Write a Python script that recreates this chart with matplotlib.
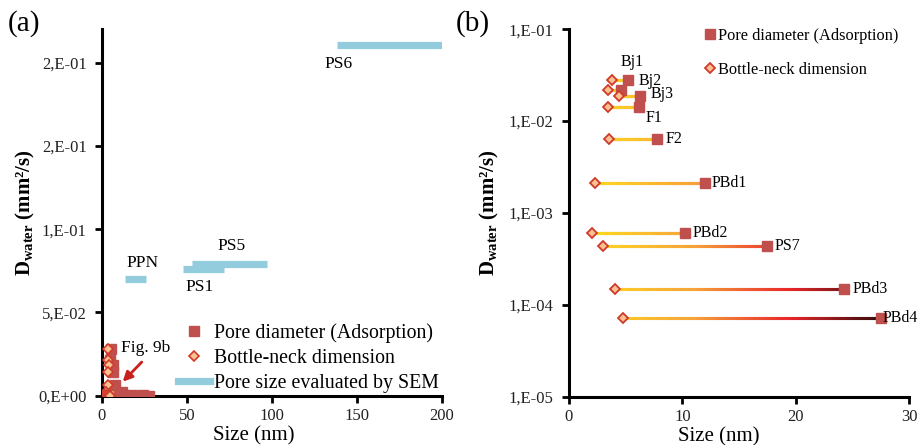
import numpy as np
import matplotlib
matplotlib.use('Agg')
import matplotlib.pyplot as plt
from matplotlib.collections import LineCollection
from matplotlib.colors import LinearSegmentedColormap, Normalize
from matplotlib.ticker import FuncFormatter

plt.rcParams['font.family'] = ['Liberation Serif', 'DejaVu Serif']
plt.rcParams['mathtext.fontset'] = 'custom'
plt.rcParams['mathtext.rm'] = 'Liberation Serif'
plt.rcParams['mathtext.bf'] = 'Liberation Serif:bold'
plt.rcParams['mathtext.it'] = 'Liberation Serif:italic'

# samples: pore diameter (adsorption), bottle-neck size, water diffusivity
samples = ['Bj1', 'Bj2', 'Bj3', 'F1', 'F2', 'PBd1', 'PBd2', 'PS7', 'PBd3', 'PBd4']
pore_d = [5.2, 4.6, 6.3, 6.2, 7.8, 12.0, 10.2, 17.5, 24.3, 27.5]
neck_d = [3.8, 3.4, 4.4, 3.4, 3.5, 2.3, 2.0, 3.0, 4.1, 4.8]
d_water = [0.0279, 0.0217, 0.0186, 0.0141, 0.00637, 0.00211, 0.00060, 0.00044, 0.000149, 0.0000713]

# SEM pore size ranges
sem_names = ['PS6', 'PS5', 'PS1', 'PPN']
sem_min = [138, 53, 47.6, 13.7]
sem_max = [200, 97, 72, 26]
sem_d = [0.2103, 0.0791, 0.0760, 0.0701]

# label offsets in pixels (from bar start / square marker)
sem_off = [(-12, -19), (25, 18), (3, -18), (1, 16)]
lab_off = [(4, 18), (17, 9), (10, 2), (6, -11), (8, 0), (7, 0), (8, 0), (7, 0), (8, 0), (2, 0)]
lab_ha = ['center', 'left', 'left', 'left', 'left', 'left', 'left', 'left', 'left', 'left']

sq_col = '#C0504D'
dm_face = '#FAC090'
sem_col = '#93CDDD'

fig = plt.figure(figsize=(9.22, 4.45), dpi=100)
ax1 = fig.add_axes([0.1106, 0.1108, 0.3688, 0.8234])
ax2 = fig.add_axes([0.6171, 0.1085, 0.3688, 0.826])

cmap = LinearSegmentedColormap.from_list('grad', [(0, '#FFE81A'), (0.4, '#F7A13A'),
                                                  (0.7, '#E8262B'), (1.0, '#2A0A0A')])
norm = Normalize(0, 28)


def grad_lines(ax, lw):
    segs, cols = [], []
    for a, b, y in zip(neck_d, pore_d, d_water):
        xs = np.linspace(a, b, 60)
        for i in range(len(xs) - 1):
            segs.append([(xs[i], y), (xs[i + 1], y)])
            cols.append(cmap(norm(0.5 * (xs[i] + xs[i + 1]))))
    lc = LineCollection(segs, colors=cols, linewidths=lw, zorder=2)
    lc.set_capstyle('projecting')
    ax.add_collection(lc)


def sci_fmt(v, pos):
    if v == 0:
        return '0,E+00'
    e = int(np.floor(np.log10(abs(v)) + 1e-9))
    m = int(np.floor(v / 10 ** e + 0.5 + 1e-9))
    if m == 10:
        m, e = 1, e + 1
    return '%d,E%s%02d' % (m, '-' if e < 0 else '+', abs(e))


ylab = r'D$_{\mathbf{water}}$ (mm²/s)'

# ---------------- panel (a)
for n, a, b, y, off in zip(sem_names, sem_min, sem_max, sem_d, sem_off):
    ax1.plot([a, b], [y, y], color=sem_col, lw=5.2, solid_capstyle='butt', zorder=1)
    ax1.annotate(n, (a, y), xytext=off, textcoords='offset pixels', fontsize=12.5,
                 ha='left', va='center')
ax1.plot([], [], color=sem_col, lw=5.2, label='Pore size evaluated by SEM')
grad_lines(ax1, 1.5)
ax1.plot(pore_d, d_water, 's', color=sq_col, ms=7, ls='none', zorder=3,
         label='Pore diameter (Adsorption)')
ax1.plot(neck_d, d_water, 'D', mfc=dm_face, mec='#D03A2A', mew=1.2, ms=5.5, ls='none',
         zorder=4, label='Bottle-neck dimension')
ax1.annotate('', xy=(12.2, 0.0084), xytext=(23.4, 0.0202),
             arrowprops=dict(arrowstyle='-|>', color='#C8201E', lw=2, mutation_scale=14,
                             shrinkA=0, shrinkB=0))
ax1.text(11.0, 0.0286, 'Fig. 9b', fontsize=12.5, ha='left', va='center')

ax1.set_xlim(0, 200)
ax1.set_ylim(0, 0.22)
ax1.set_xticks([0, 50, 100, 150, 200])
ax1.set_yticks([0, 0.05, 0.10, 0.15, 0.20])
ax1.yaxis.set_major_formatter(FuncFormatter(sci_fmt))
h, l = ax1.get_legend_handles_labels()
order = [1, 2, 0]
ax1.legend([h[i] for i in order], [l[i] for i in order], loc='lower left',
           bbox_to_anchor=(0.19, -0.025), frameon=False, fontsize=14.3, handlelength=1.6,
           handletextpad=0.2, labelspacing=0.3, borderpad=0.1)

# ---------------- panel (b)
grad_lines(ax2, 2.2)
ax2.plot(pore_d, d_water, 's', color=sq_col, ms=6.5, ls='none', zorder=3,
         label='Pore diameter (Adsorption)')
ax2.plot(neck_d, d_water, 'D', mfc=dm_face, mec='#D03A2A', mew=1.3, ms=5.5, ls='none',
         zorder=4, label='Bottle-neck dimension')
for n, x, y, off, ha in zip(samples, pore_d, d_water, lab_off, lab_ha):
    ax2.annotate(n, (x, y), xytext=off, textcoords='offset pixels', fontsize=11.5,
                 ha=ha, va='center')
ax2.set_yscale('log')
ax2.set_xlim(0, 30)
ax2.set_ylim(1e-5, 1e-1)
ax2.set_xticks([0, 10, 20, 30])
ax2.set_yticks([1e-5, 1e-4, 1e-3, 1e-2, 1e-1])
ax2.minorticks_off()
ax2.yaxis.set_major_formatter(FuncFormatter(sci_fmt))
ax2.legend(loc='upper left', bbox_to_anchor=(0.37, 1.03), frameon=False, fontsize=11.8,
           handlelength=0.6, handletextpad=0.2, labelspacing=1.1, borderpad=0.1)

for ax in (ax1, ax2):
    for s in ('top', 'right'):
        ax.spines[s].set_visible(False)
    for s in ('left', 'bottom'):
        ax.spines[s].set_linewidth(2.2)
    ax.tick_params(axis='both', which='major', direction='out', length=5, width=2,
                   labelsize=12, labelcolor='#222222', pad=6)
    ax.tick_params(axis='x', pad=4)
    ax.set_xlabel('Size (nm)', fontsize=15, va='top')
    ax.set_ylabel(ylab, fontsize=15, fontweight='bold')

ax1.xaxis.set_label_coords(0.447, -0.084)
ax2.xaxis.set_label_coords(0.44, -0.084)
ax1.yaxis.set_label_coords(-0.19, 0.5)
ax2.yaxis.set_label_coords(-0.2, 0.5)
fig.text(0.008, 0.948, '(a)', fontsize=21, ha='left', va='center')
fig.text(0.494, 0.948, '(b)', fontsize=21, ha='left', va='center')

fig.savefig('out.png', dpi=100)
